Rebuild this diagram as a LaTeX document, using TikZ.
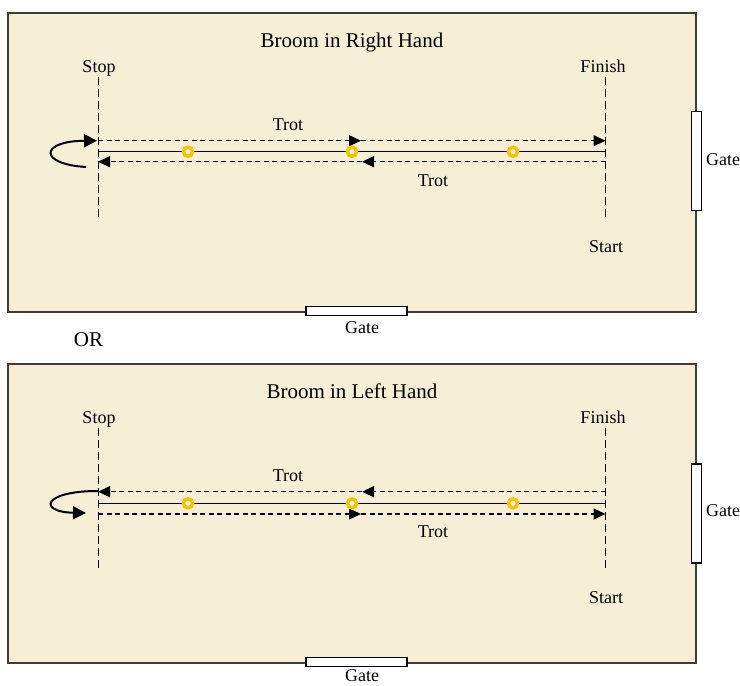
\documentclass[tikz,border=0pt]{standalone}
\usepackage{fontspec}
\setmainfont{Liberation Serif}
\usetikzlibrary{arrows.meta}
\definecolor{field}{RGB}{246,239,214}
\definecolor{rim}{RGB}{62,62,56}
\definecolor{conegold}{RGB}{255,192,0}
\tikzset{
  arena/.style={fill=field, draw=rim, line width=1.5pt},
  gatebar/.style={fill=white, draw=black, line width=1.1pt, inner sep=0pt},
  marker/.style={draw=black, line width=1pt, dash pattern=on 8pt off 4pt},
  track/.style={draw=black, line width=1.4pt},
  trotpath/.style={draw=black, line width=1.3pt, dash pattern=on 5pt off 3.5pt,
    -{Triangle[length=12pt,width=11pt]}},
  turn/.style={draw=black, line width=2pt, -{Triangle[length=13pt,width=13pt]}},
  conemark/.style={circle, draw=conegold, line width=3.5pt, fill=white,
    minimum size=9pt, inner sep=0pt},
  lbl/.style={font=\fontsize{18}{20}\selectfont, anchor=base, inner sep=0pt},
  ttl/.style={font=\fontsize{21}{24}\selectfont, anchor=base, inner sep=0pt},
}
\begin{document}
\begin{tikzpicture}[x=1pt, y=-1pt]
\useasboundingbox (0,0) rectangle (740,686);

% ---------- upper arena: broom in right hand ----------
\path[arena] (8,13) rectangle (696,312);
\node[gatebar, minimum width=101pt, minimum height=8.5pt] (rgateS) at (356.5,311) {};
\node[gatebar, minimum width=10pt, minimum height=99pt] (rgateE) at (696.7,161.4) {};
\node[lbl] (rgateSl) at (362,333) {Gate};
\node[lbl] (rgateEl) at (723,165) {Gate};
\node[ttl] (rtitle) at (352,47.7) {Broom in Right Hand};
\node[lbl] (rstop) at (99,72) {Stop};
\node[lbl] (rfinish) at (603,72) {Finish};
\node[lbl] (rstart) at (606,252) {Start};

\coordinate (rStopTop) at (98,77);
\coordinate (rStopBot) at (98,220);
\coordinate (rFinTop) at (605.5,77);
\coordinate (rFinBot) at (605.5,220);
\draw[marker] (rStopTop) -- (rStopBot);
\draw[marker] (rFinTop) -- (rFinBot);

\coordinate (rUpA) at (98,140.7);
\coordinate (rUpM) at (361,140.7);
\coordinate (rUpB) at (605.5,140.7);
\coordinate (rMidA) at (98,151.7);
\coordinate (rMidB) at (605.5,151.7);
\coordinate (rLoA) at (98,161.7);
\coordinate (rLoM) at (362,161.7);
\coordinate (rLoB) at (605.5,161.7);

\draw[track] (rMidA) -- (rMidB);
\draw[trotpath] (rUpA) -- (rUpM);
\draw[trotpath] (rUpM) -- (rUpB);
\draw[trotpath] (rLoB) -- (rLoM);
\draw[trotpath] (rLoM) -- (rLoA);
\node[lbl] (rtrot1) at (288,130) {Trot};
\node[lbl] (rtrot2) at (433,186) {Trot};

\node[conemark] (rc1) at (188,151.7) {};
\node[conemark] (rc2) at (352,151.7) {};
\node[conemark] (rc3) at (513,151.7) {};

\coordinate (rTurnS) at (86,167);
\coordinate (rTurnE) at (97,140.7);
\draw[turn] (rTurnS) .. controls (38,164) and (40,141) .. (rTurnE);

\node[ttl] (orword) at (88.5,346.7) {OR};

% ---------- lower arena: broom in left hand ----------
\begin{scope}[yshift=-351pt]
\path[arena] (8,13) rectangle (696,312);
\node[gatebar, minimum width=101pt, minimum height=8.5pt] (lgateS) at (356.5,311) {};
\node[gatebar, minimum width=10pt, minimum height=99pt] (lgateE) at (696.7,162.5) {};
\node[lbl] (lgateSl) at (362,330.5) {Gate};
\node[lbl] (lgateEl) at (723,165) {Gate};
\node[ttl] (ltitle) at (352,47.7) {Broom in Left Hand};
\node[lbl] (lstop) at (99,72) {Stop};
\node[lbl] (lfinish) at (603,72) {Finish};
\node[lbl] (lstart) at (606,252) {Start};

\coordinate (lStopTop) at (98,77);
\coordinate (lStopBot) at (98,220);
\coordinate (lFinTop) at (605.5,77);
\coordinate (lFinBot) at (605.5,220);
\draw[marker] (lStopTop) -- (lStopBot);
\draw[marker] (lFinTop) -- (lFinBot);

\coordinate (lUpA) at (98,140.7);
\coordinate (lUpM) at (362,140.7);
\coordinate (lUpB) at (605.5,140.7);
\coordinate (lMidA) at (98,152.3);
\coordinate (lMidB) at (605.5,152.3);
\coordinate (lLoA) at (98,163);
\coordinate (lLoM) at (361,163);
\coordinate (lLoB) at (605.5,163);

\draw[track] (lMidA) -- (lMidB);
\draw[trotpath] (lUpB) -- (lUpM);
\draw[trotpath] (lUpM) -- (lUpA);
\draw[trotpath] (lLoA) -- (lLoM);
\draw[trotpath] (lLoM) -- (lLoB);
\node[lbl] (ltrot1) at (288,130) {Trot};
\node[lbl] (ltrot2) at (433,186) {Trot};

\node[conemark] (lc1) at (188,152.3) {};
\node[conemark] (lc2) at (352,152.3) {};
\node[conemark] (lc3) at (513,152.3) {};

\coordinate (lTurnS) at (98,140);
\coordinate (lTurnE) at (86,162);
\draw[turn] (lTurnS) .. controls (42,140) and (38,161) .. (lTurnE);
\end{scope}
\end{tikzpicture}
\end{document}
